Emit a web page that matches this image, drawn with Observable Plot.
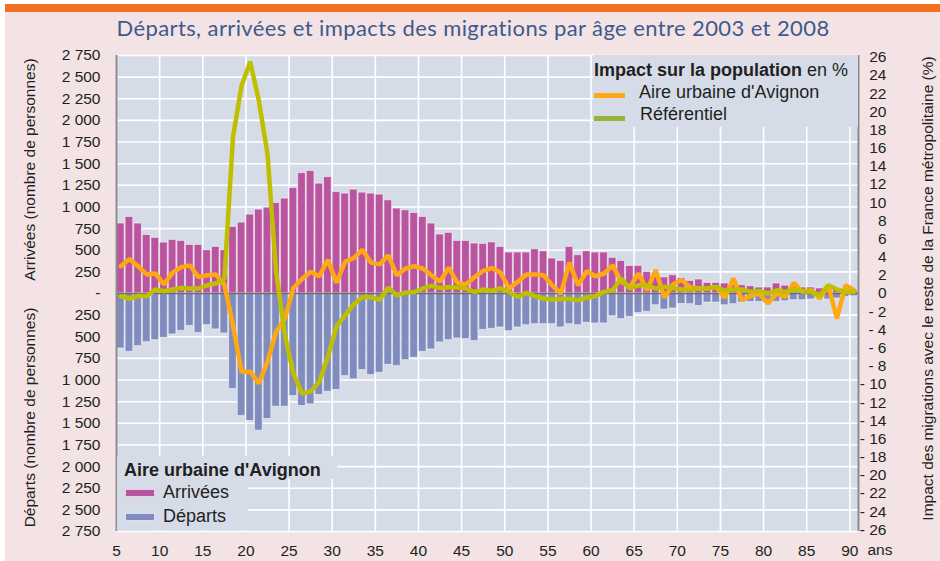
<!DOCTYPE html>
<html>
<head>
<meta charset="utf-8">
<script src="https://cdn.jsdelivr.net/npm/d3@7"></script>
<script src="https://cdn.jsdelivr.net/npm/@observablehq/plot@0.6"></script>
<style>
  html, body { margin: 0; padding: 0; background: #ffffff; }
  #wrap { position: relative; width: 940px; height: 561px; overflow: hidden; font-family: "Liberation Sans", Arial, sans-serif; color: #231F20; }
  #bg { position: absolute; left: 5px; top: 4px; right: 0; bottom: 0; background: #F3E3E5; }
  #band { position: absolute; left: 5px; top: 4px; width: 935px; height: 8px; background: #F26F21; }
  #title { position: absolute; left: 6px; width: 934px; top: 15px; text-align: center; font-family: Lato, "Open Sans", sans-serif; font-size: 22px; letter-spacing: 0.4px; line-height: 26px; color: #3E5A8C; white-space: nowrap; }
  #chart { position: absolute; left: 0; top: 0; }
  .lg { position: absolute; background: #D5DCE8; }
  .t { position: absolute; font-size: 18px; line-height: 18px; white-space: nowrap; color: #231F20; }
  .sw { position: absolute; }
</style>
</head>
<body>
<div id="wrap">
  <div id="bg"></div>
  <div id="band"></div>
  <div id="title"></div>
  <div id="chart"></div>
  <!-- legend: impact lines -->
  <div class="lg" style="left:593px;top:55px;width:265px;height:72px;"></div>
  <div class="t" style="left:594px;top:61px;"><b>Impact sur la population</b> en %</div>
  <div class="sw" id="swA" style="left:594px;top:93px;width:31px;height:5px;"></div>
  <div class="t" id="lgA" style="left:639px;top:83px;"></div>
  <div class="sw" id="swR" style="left:594px;top:116px;width:31px;height:5px;"></div>
  <div class="t" id="lgR" style="left:640px;top:105px;"></div>
  <!-- legend: bars -->
  <div class="lg" style="left:117px;top:456px;width:220px;height:23px;"></div>
  <div class="lg" style="left:117px;top:478px;width:131px;height:52px;"></div>
  <div class="t" id="lgT" style="left:124px;top:461px;font-weight:bold;"></div>
  <div class="sw" id="swArr" style="left:125px;top:489px;width:30px;height:8px;box-sizing:border-box;border:1px solid #E9CFE3;"></div>
  <div class="t" id="lgArr" style="left:163px;top:483px;"></div>
  <div class="sw" id="swDep" style="left:125px;top:513px;width:30px;height:8px;box-sizing:border-box;border:1px solid #DCE0EE;"></div>
  <div class="t" id="lgDep" style="left:163px;top:507px;"></div>
</div>
<script>
// ---- data (ages 5 to 90) ----
const ages = d3.range(5, 91);

// Arrivées (number of persons)
const arrivees = [
  808, 884, 808, 676, 642, 588, 619, 607, 561, 561,
  500, 538, 500, 769, 819, 911, 969, 992, 1045, 1096,
  1218, 1391, 1415, 1269, 1345, 1172, 1154, 1200, 1165, 1154,
  1142, 1077, 981, 961, 930, 884, 808, 681, 700, 607,
  607, 577, 573, 590, 538, 473, 473, 473, 511, 488,
  404, 376, 538, 442, 488, 473, 473, 411, 376, 318,
  318, 249, 238, 185, 211, 177, 145, 161, 122, 122,
  115, 96, 96, 84, 69, 69, 115, 90, 76, 69,
  69, 58, 46, 38, 38, 30
];

// Départs (number of persons, drawn downward)
const departs = [
  635, 674, 608, 562, 539, 512, 473, 431, 374, 455,
  366, 415, 462, 1104, 1416, 1473, 1585, 1450, 1308, 1308,
  1185, 1300, 1281, 1173, 1135, 1115, 954, 992, 885, 942,
  916, 824, 839, 770, 743, 674, 646, 565, 539, 519,
  527, 550, 420, 408, 392, 435, 392, 366, 354, 354,
  354, 392, 354, 366, 339, 346, 346, 262, 296, 270,
  224, 212, 135, 185, 173, 120, 123, 143, 104, 104,
  135, 123, 104, 97, 97, 115, 97, 89, 77, 77,
  69, 58, 69, 58, 39, 31
];

// Impact sur la population (%) - Aire urbaine d'Avignon
const impactAvignon = [
  3.0, 3.8, 3.0, 2.1, 2.2, 1.0, 2.3, 2.9, 3.1, 1.8,
  2.0, 2.1, 1.0, -3.5, -8.6, -8.6, -9.9, -7.5, -4.2, -2.8,
  0.6, 1.6, 2.4, 1.9, 3.7, 1.2, 3.5, 3.9, 4.8, 3.4,
  3.2, 4.2, 2.0, 2.75, 3.0, 2.75, 2.0, 1.3, 2.85, 1.2,
  1.0, 1.8, 2.5, 2.8, 2.3, 0.55, 1.3, 2.1, 2.1, 2.0,
  0.9, 0.0, 3.4, 0.9, 2.45, 1.9, 2.2, 3.1, 1.3, 0.7,
  2.2, 0.36, 2.56, -0.44, 1.0, 1.5, 0.66, 0.55, 0.55, 0.73,
  -0.48, 1.65, -0.73, -0.26, 0.0, -1.1, 0.0, -0.37, 1.17, 0.18,
  0.36, -0.55, 0.9, -2.75, 0.9, 0.36
];

// Impact sur la population (%) - Référentiel
const impactRef = [
  -0.3, -0.55, -0.26, -0.3, 0.44, 0.25, 0.44, 0.6, 0.55, 0.55,
  0.9, 1.1, 1.6, 17.2, 22.9, 25.5, 21.2, 15.4, 2.4, -4.5,
  -8.8, -11.0, -10.8, -9.7, -7.0, -3.6, -2.4, -1.2, -0.4, -0.4,
  -0.7, 0.65, -0.2, 0.1, 0.15, 0.55, 0.85, 0.6, 0.7, 0.65,
  0.55, 0.15, 0.45, 0.3, 0.55, 0.18, -0.37, 0.07, -0.3, -0.55,
  -0.66, -0.6, -0.6, -0.73, -0.44, -0.3, 0.18, 0.36, 1.65, 0.55,
  0.9, 0.9, 0.55, 0.73, 0.6, 0.44, 0.44, 0.55, 0.55, 0.73,
  0.29, 0.44, 0.44, 0.18, 0.29, 0.0, 0.36, 0.18, 0.44, 0.29,
  0.18, -0.18, 0.9, 0.44, 0.18, 0.18
];

// ticks and labels
const xTicks = d3.range(5, 91, 5);
const yTicks = d3.range(-2750, 2751, 250);
const pctTicks = d3.range(-26, 27, 2);
const xDomain = [5, 91];
const yDomain = [-2750, 2750];
const PERSONS_PER_PCT = 105; // ratio between left (persons) and right (%) axes

const titleText = "Départs, arrivées et impacts des migrations par âge entre 2003 et 2008";
const leftTitleTop = "Arrivées (nombre de personnes)";
const leftTitleBottom = "Départs (nombre de personnes)";
const rightTitle = "Impact des migrations avec le reste de la France métropolitaine (%)";
const seriesLines = ["Aire urbaine d'Avignon", "Référentiel"];
const seriesBars = ["Arrivées", "Départs"];
const barLegendTitle = "Aire urbaine d'Avignon";
const xUnit = "ans";

const colors = { arr: "#BB549F", dep: "#808CBD", avi: "#FEA814", ref: "#BFBF00", refSwatch: "#93B53A" };

const data = ages.map((a, i) => ({
  age: a, arr: arrivees[i], dep: departs[i], avi: impactAvignon[i], ref: impactRef[i]
}));

const fmtLeft = d => d === 0 ? "-" : d3.format(",")(Math.abs(d)).replace(/,/g, " ");
const fmtRight = d => { const v = Math.round(d / PERSONS_PER_PCT); return v < 0 ? "- " + (-v) : String(v); };

const chart = Plot.plot({
  width: 940,
  height: 561,
  marginTop: 55,
  marginBottom: 30,
  marginLeft: 116,
  marginRight: 82,
  style: { background: "transparent", fontFamily: "'Liberation Sans', Arial, sans-serif", fontSize: "16px", color: "#231F20" },
  x: { domain: xDomain, label: null },
  y: { domain: yDomain, label: null },
  marks: [
    Plot.frame({ fill: "#D5DCE8", stroke: null }),
    Plot.gridY(yTicks, { stroke: "white", strokeOpacity: 1, strokeWidth: 1.6 }),
    Plot.gridX(xTicks, { stroke: "white", strokeOpacity: 1, strokeWidth: 1.6 }),
    Plot.rect(data, { x1: "age", x2: d => d.age + 1, y1: () => 0, y2: "arr", fill: colors.arr,
      stroke: "white", strokeOpacity: 0.5, strokeWidth: 1, insetLeft: 0.5, insetRight: 0.5 }),
    Plot.rect(data, { x1: "age", x2: d => d.age + 1, y1: () => 0, y2: d => -d.dep, fill: colors.dep,
      stroke: "white", strokeOpacity: 0.5, strokeWidth: 1, insetLeft: 0.5, insetRight: 0.5 }),
    Plot.ruleY([0], { stroke: "#6b6b6b", strokeWidth: 1.5 }),
    Plot.ruleX(xDomain, { stroke: "#8c8c8c", strokeWidth: 2 }),
    Plot.line(data, { x: d => d.age + 0.5, y: d => d.avi * PERSONS_PER_PCT, stroke: colors.avi, strokeWidth: 4.5, strokeLinejoin: "miter" }),
    Plot.line(data, { x: d => d.age + 0.5, y: d => d.ref * PERSONS_PER_PCT, stroke: colors.ref, strokeWidth: 4.5, strokeLinejoin: "miter" }),
    Plot.axisY(yTicks, { anchor: "left", tickSize: 0, tickPadding: 16, tickFormat: fmtLeft, fontSize: 15.5, label: null }),
    Plot.axisY(pctTicks.map(v => v * PERSONS_PER_PCT), { anchor: "right", tickSize: 0, tickPadding: 0, textAnchor: "end", dx: 28, tickFormat: fmtRight, fontSize: 15.5, label: null }),
    Plot.axisX(xTicks, { tickSize: 0, tickPadding: 13, fontSize: 15.5, label: null }),
    Plot.text([leftTitleTop], { text: d => d, frameAnchor: "left", textAnchor: "middle", lineAnchor: "middle", rotate: -90, dx: -86, dy: -124, fontSize: 15.5 }),
    Plot.text([leftTitleBottom], { text: d => d, frameAnchor: "left", textAnchor: "middle", lineAnchor: "middle", rotate: -90, dx: -86, dy: 124, fontSize: 15.5 }),
    Plot.text([rightTitle], { text: d => d, frameAnchor: "right", textAnchor: "middle", lineAnchor: "middle", rotate: -90, dx: 70, dy: -5, fontSize: 15.5 }),
    Plot.text([xUnit], { text: d => d, frameAnchor: "bottom-right", textAnchor: "start", lineAnchor: "middle", dx: 9, dy: 19, fontSize: 15.5 })
  ]
});
document.getElementById("chart").appendChild(chart);

document.getElementById("title").textContent = titleText;
document.getElementById("swA").style.background = colors.avi;
document.getElementById("swR").style.background = colors.refSwatch;
document.getElementById("lgA").textContent = seriesLines[0];
document.getElementById("lgR").textContent = seriesLines[1];
document.getElementById("lgT").textContent = barLegendTitle;
document.getElementById("swArr").style.background = colors.arr;
document.getElementById("swDep").style.background = colors.dep;
document.getElementById("lgArr").textContent = seriesBars[0];
document.getElementById("lgDep").textContent = seriesBars[1];
</script>
</body>
</html>
